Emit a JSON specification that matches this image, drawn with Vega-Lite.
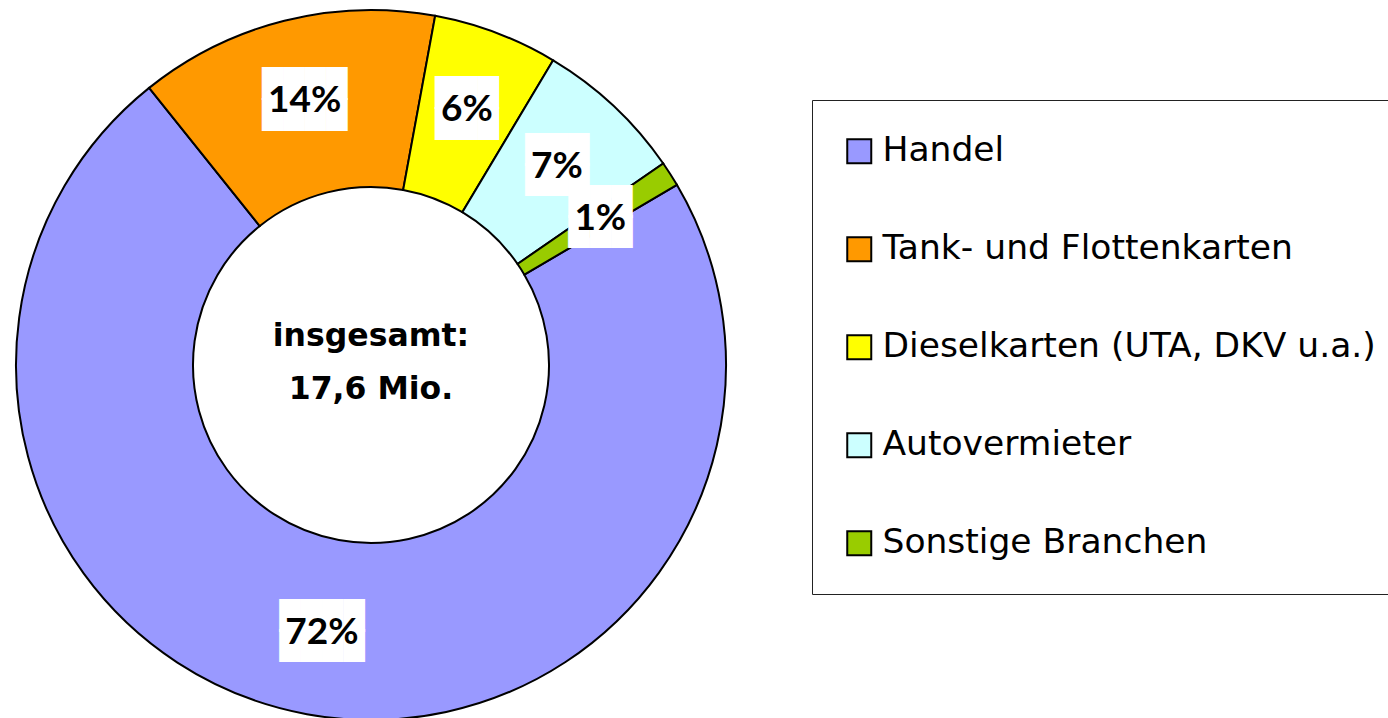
{
  "$schema": "https://vega.github.io/schema/vega-lite/v6.json",
  "width": 742,
  "height": 706,
  "autosize": {"type": "none"},
  "padding": {"left": 0, "top": 12, "right": 646, "bottom": 0},
  "background": "white",
  "config": {"view": {"stroke": null}},
  "datasets": {
    "shares": [
      {"idx": 1, "branche": "Handel", "mio": 12.8, "label": "72%"},
      {"idx": 2, "branche": "Tank- und Flottenkarten", "mio": 2.4, "label": "14%"},
      {"idx": 3, "branche": "Dieselkarten (UTA, DKV u.a.)", "mio": 1.0, "label": "6%"},
      {"idx": 4, "branche": "Autovermieter", "mio": 1.2, "label": "7%"},
      {"idx": 5, "branche": "Sonstige Branchen", "mio": 0.2, "label": "1%"}
    ],
    "total": [{"text": "insgesamt:\n17,6 Mio."}]
  },
  "layer": [
    {
      "data": {"name": "shares"},
      "mark": {"type": "arc", "outerRadius": 355, "innerRadius": 178, "stroke": "black", "strokeWidth": 2},
      "encoding": {
        "theta": {"field": "mio", "type": "quantitative", "stack": true, "scale": {"range": [1.0385, 7.3217]}},
        "order": {"field": "idx", "type": "quantitative"},
        "color": {
          "field": "branche",
          "type": "nominal",
          "scale": {
            "domain": ["Handel", "Tank- und Flottenkarten", "Dieselkarten (UTA, DKV u.a.)", "Autovermieter", "Sonstige Branchen"],
            "range": ["#9999FF", "#FF9900", "#FFFF00", "#CCFFFF", "#99CC00"]
          },
          "legend": {
            "title": null,
            "orient": "none",
            "legendX": 812,
            "legendY": 88,
            "direction": "vertical",
            "padding": 34,
            "strokeColor": "#222222",
            "fillColor": "white",
            "symbolType": "square",
            "symbolSize": 576,
            "symbolStrokeColor": "black",
            "symbolStrokeWidth": 2,
            "symbolOpacity": 1,
            "symbolOffset": -4,
            "labelFont": "DejaVu Sans",
            "labelFontSize": 34.5,
            "labelColor": "black",
            "labelOffset": 6,
            "labelLimit": 1000,
            "rowPadding": 63
          }
        }
      }
    },
    {
      "data": {"name": "shares"},
      "transform": [
        {"calculate": "pad('', length(datum.label) + 1, '█')", "as": "row"},
        {"calculate": "datum.row + '\\n' + datum.row", "as": "box"}
      ],
      "mark": {"type": "text", "radius": 272, "font": "DejaVu Sans", "fontSize": 27.7, "lineHeight": 30.8, "lineBreak": "\n", "color": "white", "baseline": "middle", "dy": -16},
      "encoding": {
        "theta": {"field": "mio", "type": "quantitative", "stack": true},
        "order": {"field": "idx", "type": "quantitative"},
        "text": {"field": "box", "type": "nominal"}
      }
    },
    {
      "data": {"name": "shares"},
      "mark": {"type": "text", "radius": 272, "font": "Lato", "fontWeight": "bold", "fontSize": 37, "color": "black", "baseline": "middle"},
      "encoding": {
        "theta": {"field": "mio", "type": "quantitative", "stack": true},
        "order": {"field": "idx", "type": "quantitative"},
        "text": {"field": "label", "type": "nominal"}
      }
    },
    {
      "data": {"name": "total"},
      "mark": {"type": "text", "font": "DejaVu Sans", "fontWeight": "bold", "fontSize": 31.5, "lineHeight": 53, "lineBreak": "\n", "color": "black", "baseline": "middle", "dy": -28},
      "encoding": {
        "text": {"field": "text", "type": "nominal"}
      }
    }
  ]
}
